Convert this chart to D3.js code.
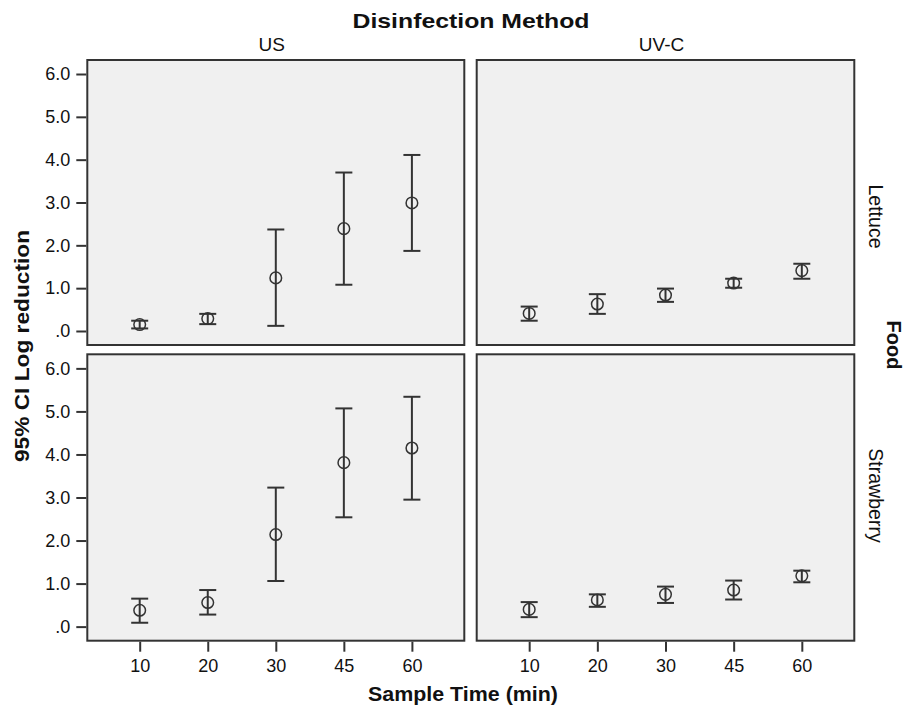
<!DOCTYPE html>
<html>
<head>
<meta charset="utf-8">
<script src="https://cdn.jsdelivr.net/npm/d3@7"></script>
<style>
  body { margin: 0; background: #fff; }
  svg text { font-family: "Liberation Sans", Arial, sans-serif; fill: #111; }
</style>
</head>
<body>
<div class="canvas"></div>
<script>
// sample times (x categories), facets
const times = ["10", "20", "30", "45", "60"]
const methods = ["US", "UV-C"]
const foods = ["Lettuce", "Strawberry"]
const yTicks = [0, 1, 2, 3, 4, 5, 6]

// mean log reduction with 95% CI
const usLettuceMean = [0.15, 0.29, 1.24, 2.39, 2.99]
const usLettuceLow = [0.06, 0.16, 0.12, 1.08, 1.87]
const usLettuceHigh = [0.24, 0.40, 2.37, 3.70, 4.11]

const uvcLettuceMean = [0.41, 0.63, 0.84, 1.12, 1.41]
const uvcLettuceLow = [0.24, 0.40, 0.68, 1.01, 1.22]
const uvcLettuceHigh = [0.57, 0.86, 0.99, 1.22, 1.57]

const usStrawMean = [0.38, 0.56, 2.14, 3.81, 4.15]
const usStrawLow = [0.09, 0.28, 1.06, 2.54, 2.95]
const usStrawHigh = [0.65, 0.85, 3.23, 5.07, 5.34]

const uvcStrawMean = [0.40, 0.62, 0.75, 0.85, 1.18]
const uvcStrawLow = [0.22, 0.46, 0.55, 0.63, 1.03]
const uvcStrawHigh = [0.57, 0.75, 0.93, 1.07, 1.30]

const panels = [
    {food: 0, method: 0, mean: usLettuceMean, low: usLettuceLow, high: usLettuceHigh},
    {food: 0, method: 1, mean: uvcLettuceMean, low: uvcLettuceLow, high: uvcLettuceHigh},
    {food: 1, method: 0, mean: usStrawMean, low: usStrawLow, high: usStrawHigh},
    {food: 1, method: 1, mean: uvcStrawMean, low: uvcStrawLow, high: uvcStrawHigh}
]

const width = 907
const height = 706

const svg = d3.select(".canvas")
    .append("svg")
    .attr("width", width)
    .attr("height", height)

// panel boxes
const cols = [[87.3, 464.3], [476.7, 854.3]]
const rows = [[60, 345], [354.3, 640.7]]
const pad = 0.327

const ink = "#333"

panels.forEach(p => {
    const [x0, x1] = cols[p.method]
    const [y0, y1] = rows[p.food]

    const x = d3.scalePoint()
        .domain(times)
        .range([x0, x1])
        .padding(0.77)

    const y = d3.scaleLinear()
        .domain([-pad, 6 + pad])
        .range([y1, y0])

    const g = svg.append("g")

    g.append("rect")
        .attr("x", x0)
        .attr("y", y0)
        .attr("width", x1 - x0)
        .attr("height", y1 - y0)
        .attr("fill", "#f0f0f0")
        .attr("stroke", ink)
        .attr("stroke-width", 2)

    if (p.method === 0) {
        const yAxis = d3.axisLeft(y)
            .tickValues(yTicks)
            .tickSize(10)
            .tickPadding(6)
            .tickFormat(d => d === 0 ? ".0" : d.toFixed(1))
        const ya = g.append("g")
            .attr("transform", `translate(${x0 - 1}, 0)`)
            .call(yAxis)
        ya.select(".domain").remove()
        ya.selectAll("line").attr("stroke", ink).attr("stroke-width", 2)
        ya.selectAll("text")
            .attr("font-size", 18)
            .style("font-family", "'Liberation Sans', Arial, sans-serif")
    }

    if (p.food === 1) {
        const xAxis = d3.axisBottom(x)
            .tickSize(10)
            .tickPadding(8)
        const xa = g.append("g")
            .attr("transform", `translate(0, ${y1 + 1})`)
            .call(xAxis)
        xa.select(".domain").remove()
        xa.selectAll("line").attr("stroke", ink).attr("stroke-width", 2)
        xa.selectAll("text")
            .attr("font-size", 18)
            .style("font-family", "'Liberation Sans', Arial, sans-serif")
    }

    const pts = times.map((t, i) => ({t: t, m: p.mean[i], lo: p.low[i], hi: p.high[i]}))

    const bars = g.selectAll(".bar")
        .data(pts)
        .enter()
        .append("g")
        .attr("class", "bar")
        .attr("stroke", ink)
        .attr("stroke-width", 2)
        .attr("fill", "none")

    bars.append("line")
        .attr("x1", d => x(d.t))
        .attr("x2", d => x(d.t))
        .attr("y1", d => y(d.lo))
        .attr("y2", d => y(d.hi))
    bars.append("line")
        .attr("x1", d => x(d.t) - 8.5)
        .attr("x2", d => x(d.t) + 8.5)
        .attr("y1", d => y(d.hi))
        .attr("y2", d => y(d.hi))
    bars.append("line")
        .attr("x1", d => x(d.t) - 8.5)
        .attr("x2", d => x(d.t) + 8.5)
        .attr("y1", d => y(d.lo))
        .attr("y2", d => y(d.lo))
    bars.append("circle")
        .attr("cx", d => x(d.t))
        .attr("cy", d => y(d.m))
        .attr("r", 5.8)
        .attr("stroke-width", 1.5)
        .attr("fill", "none")
})

// column titles
methods.forEach((m, i) => {
    svg.append("text")
        .attr("x", (cols[i][0] + cols[i][1]) / 2 - 4)
        .attr("y", 51)
        .attr("text-anchor", "middle")
        .attr("font-size", 19)
        .attr("fill", "#222")
        .text(m)
})

// row titles
foods.forEach((f, i) => {
    const cy = (rows[i][0] + rows[i][1]) / 2 + (i === 0 ? 14 : -2)
    svg.append("text")
        .attr("transform", `translate(869, ${cy}) rotate(90)`)
        .attr("text-anchor", "middle")
        .attr("font-size", 19.5)
        .attr("fill", "#222")
        .text(f)
})

svg.append("text")
    .attr("x", 471)
    .attr("y", 28)
    .attr("text-anchor", "middle")
    .attr("font-size", 21)
    .attr("font-weight", "bold")
    .attr("textLength", 237)
    .attr("lengthAdjust", "spacingAndGlyphs")
    .text("Disinfection Method")

svg.append("text")
    .attr("x", 463)
    .attr("y", 701)
    .attr("text-anchor", "middle")
    .attr("font-size", 20)
    .attr("font-weight", "bold")
    .attr("textLength", 190)
    .attr("lengthAdjust", "spacingAndGlyphs")
    .text("Sample Time (min)")

svg.append("text")
    .attr("transform", "translate(29, 346) rotate(-90)")
    .attr("text-anchor", "middle")
    .attr("font-size", 20)
    .attr("font-weight", "bold")
    .attr("textLength", 232)
    .attr("lengthAdjust", "spacingAndGlyphs")
    .text("95% CI Log reduction")

svg.append("text")
    .attr("transform", "translate(887, 345) rotate(90)")
    .attr("text-anchor", "middle")
    .attr("font-size", 20)
    .attr("font-weight", "bold")
    .text("Food")
</script>
</body>
</html>
